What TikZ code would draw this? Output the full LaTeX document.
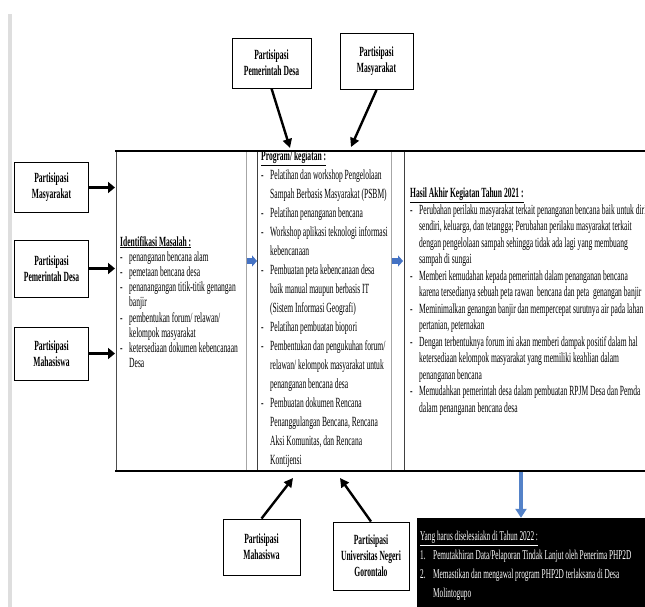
\documentclass[tikz,border=0pt]{standalone}
\usepackage{fontspec}
\setmainfont{Liberation Serif}[FakeStretch=0.54]
\usetikzlibrary{arrows.meta}
\definecolor{arrowblue}{RGB}{68,114,196}
\definecolor{downblue}{RGB}{84,130,200}

\newcommand{\itm}{\makebox[9pt][l]{-}}
\newcommand{\cnt}{\hspace*{9pt}}
\newcommand{\numit}[1]{\makebox[13pt][l]{#1}}

\begin{document}
\begin{tikzpicture}[x=1pt,y=-1pt,
    pbox/.style={draw,line width=0.9pt,fill=white,align=center,inner sep=0pt,
      font=\bfseries\fontsize{14}{16}\selectfont},
    coltxt/.style={anchor=north west,align=left,inner sep=0pt},
    thinarr/.style={line width=2.4pt,-{Triangle[length=9pt,width=9pt]}},
    sidearr/.style={line width=3.8pt,-{Triangle[length=7pt,width=11pt]}},
    bluearr/.style={arrowblue,line width=5.5pt,-{Triangle[length=5pt,width=11pt]}}]
  \useasboundingbox (0,0) rectangle (645,607);
  \fill[black!13] (8,14) rectangle (12,607);

  % table
  \coordinate (tl) at (115,151);
  \coordinate (tr) at (645,151);
  \coordinate (bl) at (115,471);
  \coordinate (br) at (645,471);
  \draw[black!70] (116,151) -- (116,471);
  \draw[black!35] (246,151) -- (246,471);
  \draw[black!75] (257,151) -- (257,471);
  \draw[black!35] (391,151) -- (391,471);
  \draw[black!75] (404,151) -- (404,471);
  \draw[line width=1.6pt] (tl) -- (tr);
  \draw[line width=1.6pt] (bl) -- (br);

  \coordinate (a1) at (246.5,261);
  \coordinate (a2) at (391.5,261);
  \draw[bluearr] (a1) -- ++(10.5,0);
  \draw[bluearr] (a2) -- ++(11.5,0);

  \node[coltxt,font=\fontsize{14}{15.2}\selectfont] (idtxt) at (120,236) {%
    \textbf{\underline{Identifikasi Masalah :}}\\
    \itm penanganan bencana alam\\
    \itm pemetaan bencana desa\\
    \itm penanangangan titik-titik genangan\\
    \cnt banjir\\
    \itm pembentukan forum/ relawan/\\
    \cnt kelompok masyarakat\\
    \itm ketersediaan dokumen kebencanaan\\
    \cnt Desa};

  \node[coltxt,font=\fontsize{14}{19}\selectfont] (progtxt) at (261,151) {%
    \textbf{\underline{Program/ kegiatan :}}\\
    \itm Pelatihan dan workshop Pengelolaan\\
    \cnt Sampah Berbasis Masyarakat (PSBM)\\
    \itm Pelatihan penanganan bencana\\
    \itm Workshop aplikasi teknologi informasi\\
    \cnt kebencanaan\\
    \itm Pembuatan peta kebencanaan desa\\
    \cnt baik manual maupun berbasis IT\\
    \cnt (Sistem Informasi Geografi)\\
    \itm Pelatihan pembuatan biopori\\
    \itm Pembentukan dan pengukuhan forum/\\
    \cnt relawan/ kelompok masyarakat untuk\\
    \cnt penanganan bencana desa\\
    \itm Pembuatan dokumen Rencana\\
    \cnt Penanggulangan Bencana, Rencana\\
    \cnt Aksi Komunitas, dan Rencana\\
    \cnt Kontijensi};

  \node[coltxt,font=\fontsize{14}{16.5}\selectfont] (hasiltxt) at (410,188) {%
    \textbf{\underline{Hasil Akhir Kegiatan Tahun 2021 :}}\\
    \itm Perubahan perilaku masyarakat terkait penanganan bencana baik untuk diri\\
    \cnt sendiri, keluarga, dan tetangga; Perubahan perilaku masyarakat terkait\\
    \cnt dengan pengelolaan sampah sehingga tidak ada lagi yang membuang\\
    \cnt sampah di sungai\\
    \itm Memberi kemudahan kepada pemerintah dalam penanganan bencana\\
    \cnt karena tersedianya sebuah peta rawan\ \ bencana dan peta\ \ genangan banjir\\
    \itm Meminimalkan genangan banjir dan mempercepat surutnya air pada lahan\\
    \cnt pertanian, peternakan\\
    \itm Dengan terbentuknya forum ini akan memberi dampak positif dalam hal\\
    \cnt ketersediaan kelompok masyarakat yang memiliki keahlian dalam\\
    \cnt penanganan bencana\\
    \itm Memudahkan pemerintah desa dalam pembuatan RPJM Desa dan Pemda\\
    \cnt dalam penanganan bencana desa};

  % participation boxes
  \node[pbox,minimum width=79pt,minimum height=50pt] (tpem) at (271.5,63) {Partisipasi\\Pemerintah Desa};
  \node[pbox,minimum width=73pt,minimum height=56pt] (tmas) at (376.5,61.5) {Partisipasi\\Masyarakat};
  \node[pbox,minimum width=74pt,minimum height=50pt] (lmas) at (51.5,187.5) {Partisipasi\\Masyarakat};
  \node[pbox,minimum width=74pt,minimum height=57pt] (lpem) at (51.5,268.5) {Partisipasi\\Pemerintah Desa};
  \node[pbox,minimum width=74pt,minimum height=53pt] (lmhs) at (51.5,353.5) {Partisipasi\\Mahasiswa};
  \node[pbox,minimum width=77pt,minimum height=56pt] (bmhs) at (261.5,547) {Partisipasi\\Mahasiswa};
  \node[pbox,minimum width=76pt,minimum height=68pt] (bung) at (371,556) {Partisipasi\\Universitas Negeri\\Gorontalo};

  \coordinate (pemtip) at (290,148);
  \coordinate (mastip) at (351,147);
  \coordinate (mhstip) at (293,478);
  \coordinate (ungtip) at (340,478);
  \draw[thinarr] (tpem.south) -- (pemtip);
  \draw[thinarr] (tmas.south) -- (mastip);
  \draw[thinarr] (bmhs.north) -- (mhstip);
  \draw[thinarr] (bung.north) -- (ungtip);
  \draw[sidearr] (lmas.east) -- (lmas.east -| tl);
  \draw[sidearr] (lpem.east) -- (lpem.east -| tl);
  \draw[sidearr] (lmhs.east) -- (lmhs.east -| tl);

  % next year
  \node[fill=black,minimum width=228pt,minimum height=90pt,inner sep=0pt] (todo) at (531,563) {};
  \node[coltxt,text=white,font=\fontsize{13.5}{19}\selectfont] (todotxt) at (420,531) {%
    \underline{Yang harus diselesaiakn di Tahun 2022 :}\\
    \numit{1.}Pemutakhiran Data/Pelaporan Tindak Lanjut oleh Penerima PHP2D\\
    \numit{2.}Memastikan dan mengawal program PHP2D terlaksana di Desa\\
    \hspace*{13pt}Molintogupo};
  \coordinate (dn) at (521,472);
  \draw[downblue,line width=3.6pt,-{Triangle[length=9pt,width=11pt]}] (dn) -- (dn |- todo.north);
\end{tikzpicture}
\end{document}
